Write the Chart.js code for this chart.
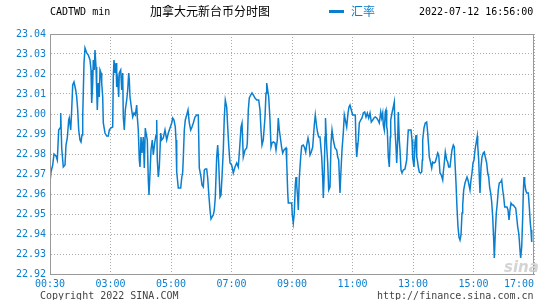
<!DOCTYPE html>
<html lang="zh">
<head>
    <meta charset="UTF-8">
    <title>加拿大元新台币分时图</title>
    <script src="https://cdn.jsdelivr.net/npm/chart.js"></script>
    <style>
        body { margin: 0; background: #fff; }
        #wrap { position: relative; width: 545px; height: 300px; overflow: hidden; }
        #chart { position: absolute; left: 0; top: 0; }
        .txt { position: absolute; white-space: nowrap; line-height: 1; }
        .mono { font-family: "DejaVu Sans Mono", monospace; font-size: 10px; }
        .cjk { font-family: "Noto Sans CJK SC", sans-serif; font-size: 12px; }
    </style>
</head>
<body>
<div id="wrap">
    <canvas id="chart" width="545" height="300"></canvas>
    <div class="txt mono" style="left:50px; top:7px; color:#000;">CADTWD min</div>
    <div class="txt cjk" style="left:150px; top:5px; color:#000;">加拿大元新台币分时图</div>
    <div style="position:absolute; left:329px; top:10px; width:15px; height:3px; background:#0a7fd0;"></div>
    <div class="txt cjk" style="left:351px; top:5px; color:#0a7fd0;">汇率</div>
    <div class="txt mono" style="left:419px; top:7px; color:#000;">2022-07-12 16:56:00</div>
    <div class="txt mono" style="left:40px; top:291px; color:#444;">Copyright 2022 SINA.COM</div>
    <div class="txt mono" style="left:377px; top:291px; color:#444;">http://finance.sina.com.cn</div>
    <div class="txt" style="left:504px; top:258px; color:#d4d4d4; font:italic bold 15px 'DejaVu Sans', sans-serif;">sina</div>
</div>
<script>
    // sample index along the trading day (about one sample per slot)
    const sampleIdx = [
        0, 1, 2.7, 4, 6, 7.3, 8.7, 10, 10.7, 11.7, 12.7, 13.3, 15, 16, 17.3, 18.7, 19.3, 20.7, 21.7, 22.7,
        24, 25.7, 26.7, 27.7, 28.7, 30, 31, 32, 32.7, 34, 35, 36.7, 38.3, 40, 41, 41.7, 42.7, 43.3, 44.3, 45,
        46, 46.7, 47.3, 48.3, 49.3, 50, 51, 51.7, 52.7, 53.3, 55, 56.7, 58.3, 59.3, 60.7, 62.7, 63.3, 64, 65, 66,
        66.7, 67.7, 68.7, 69.3, 70.7, 71.7, 72.7, 73.3, 74.3, 75.3, 76.7, 77.7, 78.7, 79.3, 80, 81.7, 82.7, 84, 85.3, 86.7,
        87.3, 88.3, 89.3, 90, 91, 92, 93.3, 94.3, 95.3, 96, 97.3, 98.3, 99, 100, 101, 102.3, 103.3, 104.7, 106, 106.7,
        107.3, 108.3, 109.3, 110.7, 111.7, 113.3, 115, 116.7, 118.3,
        121.7, 122.7, 124, 125.3, 126, 126.7, 128.3, 130.7, 131.7, 132.7, 133.3, 134.3, 135.3, 136.7, 138, 139.3, 140.7, 142, 143.3, 145,
        146.7, 148.3, 149.3, 151, 152, 153.3, 154.3, 155.3, 156.7, 157.7, 158.7, 160, 161, 162, 163.3, 164.3, 165.3, 166.7, 167.7, 168.7,
        170, 171, 172, 173.3, 174.3, 175.3, 176.7, 177.7, 178.7, 180, 181.7, 183.3, 185, 186.7, 188.3, 190, 191, 192, 193.3, 195,
        196.7, 197.3, 198.3, 199.3, 200.7, 202, 203.3, 205, 206.7, 208.7, 210, 211, 212, 213.3, 215, 216, 216.7, 217.7, 218.7, 220,
        221, 222, 223.3, 225, 226, 227.3, 228.3, 229.3,
        230, 231.7, 232.7, 234, 236, 236.7, 237.7, 238.3, 241.7, 242.3, 243.3, 244.3, 245.3, 246, 246.7, 247.7, 248.3, 249.3, 250.7, 251.7,
        253.3, 254.7, 255.7, 256.7, 258, 259, 260, 261.3, 262.7, 264.3, 265.3, 266.7, 267.7, 268.7, 270, 271.7, 272.7, 273.3, 274, 275,
        275.5, 276.7, 277.7, 278.7, 280, 281, 282, 283.3, 285, 286.7, 287.7, 288.7, 290, 291, 292, 293.3, 294.3, 295.3, 296.7, 298,
        299, 300, 301.3, 302.7, 305.3, 306, 306.7, 308.3, 309.3, 310.7, 312, 313.3, 314.7, 316, 317.3, 318.7, 320, 321.3, 322.7, 324,
        325.3, 326.7, 328, 329.3, 330.7, 331.7, 332.7, 333.3, 334.3, 335.3, 336, 336.7, 337.3, 338.3, 339.3, 340.3, 340.7, 342, 343.3, 344.3,
        345, 346, 346.7, 347.7, 348.3, 349.3, 350, 351, 352, 353.3, 355, 356.7, 357.7, 358.3, 359.3,
        361, 362, 362.7, 364, 365, 366, 366.7, 367.3, 368.3, 369.3, 370.7, 371.7, 372.3, 372.7, 374, 375.3, 376.7, 377.7, 378.7, 379.3,
        380.7, 381.7, 382.7, 384, 385.3, 386.7, 387.7, 388.7, 389.3, 390, 391.3, 392.7, 393.3, 394.3, 395.3, 396.7, 397.7, 398.7, 400, 401,
        402, 403.3, 404.3, 405, 406, 407, 408, 409, 410, 411, 412, 412.7, 413.7, 415, 416, 417, 418, 419, 420, 421,
        422, 423, 424, 425, 426.3, 427.3, 427.7, 428.7, 429.3, 430, 431, 432, 433.3, 434.3, 435.3, 436.7, 437.7, 438.7, 439.7, 440.7,
        441.7, 442.7, 443.7, 444.3, 445.3, 446.3, 447.3, 448.3, 449.3, 450.7, 451.7, 452.7, 453.7, 454.7, 456, 457, 458, 459, 460, 461,
        462.3, 463.3, 464.7, 465.7, 466.7, 467.7, 468.7, 469.3, 470, 470.7, 471.7, 472.7, 473.3, 474, 474.7, 475.7, 476.7, 478.3, 479.3, 480.3,
        481, 481.7
    ];
    const rate = [
        22.966, 22.971, 22.9745, 22.980, 22.979, 22.977, 22.992, 22.993, 23.0005, 22.983, 22.977, 22.9735, 22.9745, 22.9845, 22.988, 22.997, 22.998, 22.992, 23.002, 23.0145,
        23.016, 23.012, 23.0085, 23.002, 22.992, 22.987, 22.986, 22.9895, 22.9985, 23.0255, 23.033, 23.0305, 23.0295, 23.027, 23.022, 23.0055, 23.0155, 23.027, 23.022, 23.032,
        23.0235, 23.012, 23.002, 23.0155, 23.0085, 23.022, 23.0205, 23.0155, 23.0085, 22.9955, 22.9905, 22.989, 22.989, 22.992, 22.993, 22.9935, 23.0185, 23.027, 23.0205, 23.0255,
        23.0135, 23.017, 23.0085, 23.0205, 23.022, 23.012, 23.0205, 22.9985, 22.992, 23.002, 23.007, 23.012, 23.0205, 23.017, 23.0085, 23.002, 22.9985, 23.0005, 22.9995, 23.0045,
        22.9985, 22.992, 22.977, 22.9735, 22.9885, 22.9805, 22.9885, 22.973, 22.993, 22.9905, 22.987, 22.967, 22.9595, 22.9705, 22.982, 22.987, 22.9795, 22.9855, 22.9895, 22.997,
        22.977, 22.9685, 22.9735, 22.9905, 22.987, 22.988, 22.992, 22.987, 22.9905,
        22.9955, 22.998, 22.997, 22.9935, 22.987, 22.971, 22.963, 22.963, 22.968, 22.971, 22.978, 22.992, 22.997, 22.9995, 23.002, 22.9955, 22.992, 22.9935, 22.9955, 22.9985,
        22.9995, 22.9995, 22.973, 22.9685, 22.9645, 22.9635, 22.972, 22.9725, 22.9725, 22.968, 22.9605, 22.952, 22.9475, 22.9485, 22.9495, 22.952, 22.9585, 22.9785, 22.9845, 22.9755,
        22.9585, 22.9595, 22.9685, 22.982, 22.9985, 23.007, 23.0035, 22.9935, 22.9845, 22.9755, 22.9745, 22.9705, 22.9735, 22.9755, 22.9735, 22.9855, 22.9935, 22.9955, 22.9785, 22.982,
        22.983, 22.9855, 23.002, 23.008, 23.0095, 23.0105, 23.0095, 23.008, 23.007, 23.007, 23.002, 22.992, 22.9845, 22.987, 22.9985, 23.0105, 23.0155, 23.012, 23.0085, 22.997,
        22.9835, 22.9855, 22.986, 22.9855, 22.982, 22.987, 22.998, 22.992,
        22.9895, 22.983, 22.9805, 22.982, 22.983, 22.976, 22.961, 22.9555, 22.9555, 22.9495, 22.9455, 22.9505, 22.9645, 22.9685, 22.9645, 22.958, 22.952, 22.968, 22.9785, 22.984,
        22.9845, 22.983, 22.981, 22.9845, 22.988, 22.9855, 22.9795, 22.981, 22.9835, 22.9945, 22.9995, 22.9935, 22.9905, 22.9885, 22.9885, 22.9785, 22.968, 22.958, 22.967, 22.9885,
        22.998, 22.9835, 22.9755, 22.962, 22.9635, 22.9855, 22.992, 22.987, 22.983, 22.982, 22.9785, 22.977, 22.9605, 22.972, 22.982, 22.9905, 22.9995, 22.997, 22.9935, 23.0005,
        23.0035, 23.0045, 23.002, 22.9995, 22.9995, 22.9855, 22.9785, 22.987, 22.9955, 22.997, 22.998, 23.0005, 23.001, 22.9985, 23.0005, 22.998, 23.0005, 22.996, 22.997, 22.998,
        22.9985, 22.998, 22.997, 22.9955, 23.001, 22.998, 23.0005, 22.9945, 22.992, 23.001, 23.002, 22.9935, 22.992, 22.9785, 22.9735, 22.9885, 22.997, 23.0005, 23.0035, 23.006,
        22.992, 22.9835, 22.9755, 22.987, 23.001, 22.987, 22.982, 22.972, 22.9705, 22.972, 22.9725, 22.977, 22.987, 22.992, 22.992,
        22.992, 22.987, 22.978, 22.9735, 22.986, 22.9895, 22.9785, 22.977, 22.9735, 22.971, 22.9705, 22.971, 22.977, 22.987, 22.993, 22.9955, 22.996, 22.9905, 22.9835, 22.9785,
        22.9755, 22.973, 22.976, 22.9755, 22.976, 22.9785, 22.9805, 22.9795, 22.9755, 22.9705, 22.9695, 22.967, 22.971, 22.9755, 22.981, 22.977, 22.976, 22.9735, 22.9735, 22.978,
        22.982, 22.9845, 22.9835, 22.9755, 22.9655, 22.953, 22.9435, 22.9385, 22.937, 22.9395, 22.9505, 22.9545, 22.962, 22.9655, 22.967, 22.9685, 22.967, 22.9645, 22.962, 22.967,
        22.9705, 22.9755, 22.977, 22.982, 22.986, 22.989, 22.9845, 22.977, 22.9685, 22.9605, 22.9735, 22.9785, 22.9805, 22.981, 22.9785, 22.9755, 22.9705, 22.9685, 22.963, 22.9605,
        22.956, 22.9485, 22.937, 22.928, 22.9405, 22.9505, 22.9555, 22.962, 22.9655, 22.966, 22.967, 22.962, 22.9585, 22.9535, 22.9535, 22.9535, 22.952, 22.947, 22.952, 22.9555,
        22.9545, 22.9545, 22.9535, 22.953, 22.9485, 22.9435, 22.9405, 22.937, 22.932, 22.928, 22.9335, 22.9485, 22.9605, 22.9685, 22.9655, 22.962, 22.9605, 22.9605, 22.9535, 22.9455,
        22.942, 22.936
    ];

    const xMax = 484;
    const xTickPos = [0, 60.5, 121, 181.5, 242, 302.5, 363, 423.5, 484];
    const xTickLabels = ['00:30', '03:00', '05:00', '07:00', '09:00', '11:00', '13:00', '15:00', '17:00'];
    const yTicks = [22.92, 22.93, 22.94, 22.95, 22.96, 22.97, 22.98, 22.99, 23.00, 23.01, 23.02, 23.03, 23.04];

    const blue = '#0a7fd0';
    const monoFont = { family: 'DejaVu Sans Mono', size: 10 };

    // solid frame on top/right and the time labels under the plot
    const framePlugin = {
        id: 'frame',
        afterDraw(chart) {
            const { ctx, chartArea: a } = chart;
            const xs = chart.scales.x;
            ctx.save();
            ctx.strokeStyle = '#999';
            ctx.lineWidth = 1;
            ctx.strokeRect(a.left + 0.5, a.top + 0.5, a.right - a.left - 1, a.bottom - a.top);
            ctx.fillStyle = blue;
            ctx.font = '10px "DejaVu Sans Mono"';
            ctx.textBaseline = 'middle';
            xTickPos.forEach((v, i) => {
                const px = xs.getPixelForValue(v);
                ctx.textAlign = i === xTickPos.length - 1 ? 'right' : 'center';
                ctx.fillText(xTickLabels[i], i === xTickPos.length - 1 ? px : px, a.bottom + 10);
            });
            ctx.restore();
        }
    };

    new Chart(document.getElementById('chart'), {
        type: 'line',
        data: {
            datasets: [{
                label: '汇率',
                data: sampleIdx.map((x, i) => ({ x: x, y: rate[i] })),
                borderColor: blue,
                borderWidth: 1.5,
                pointRadius: 0,
                tension: 0,
                fill: false
            }]
        },
        options: {
            responsive: false,
            animation: false,
            layout: { padding: { top: 34, right: 11, left: 0, bottom: 0 } },
            plugins: { legend: { display: false }, tooltip: { enabled: false } },
            scales: {
                x: {
                    type: 'linear',
                    min: 0,
                    max: xMax,
                    afterBuildTicks: s => { s.ticks = xTickPos.map(v => ({ value: v })); },
                    afterFit: s => { s.height = 26; },
                    ticks: { display: false },
                    grid: { color: '#aaa', drawTicks: false },
                    border: { display: true, color: '#999', dash: [1, 2] }
                },
                y: {
                    min: 22.92,
                    max: 23.04,
                    afterBuildTicks: s => { s.ticks = yTicks.map(v => ({ value: v })); },
                    afterFit: s => { s.width = 50; },
                    ticks: {
                        color: blue,
                        font: monoFont,
                        padding: 4,
                        callback: v => v.toFixed(2)
                    },
                    grid: { color: '#aaa', drawTicks: false },
                    border: { display: true, color: '#999', dash: [1, 2] }
                }
            }
        },
        plugins: [framePlugin]
    });
</script>
</body>
</html>
